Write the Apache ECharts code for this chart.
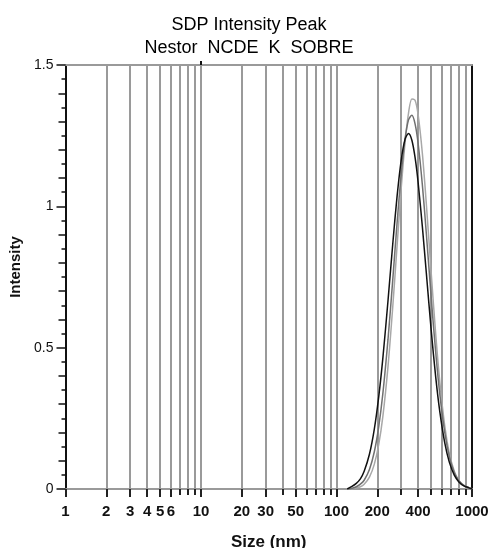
<!DOCTYPE html>
<html>
<head>
<meta charset="utf-8">
<script src="https://cdn.jsdelivr.net/npm/echarts@6/dist/echarts.min.js"></script>
<style>html,body{margin:0;padding:0;background:#fff}#c{width:488px;height:548px}</style>
</head>
<body>
<div id="c"></div>
<script>
// Size (nm) sample points
const sizes = [120,130,140,150,160,175,190,205,220,240,260,280,300,320,340,360,380,400,430,460,500,540,580,630,680,740,800,870,950,1000];
// Intensity readings for each run
const runBlack = [0,0.009,0.020,0.036,0.063,0.123,0.211,0.327,0.465,0.667,0.866,1.036,1.162,1.236,1.258,1.234,1.173,1.086,0.929,0.765,0.561,0.395,0.270,0.162,0.095,0.049,0.025,0.011,0.004,0];
const runGray = [0,0.003,0.008,0.017,0.031,0.069,0.131,0.221,0.339,0.530,0.739,0.942,1.112,1.236,1.306,1.322,1.292,1.224,1.077,0.905,0.677,0.482,0.331,0.199,0.115,0.058,0.029,0.013,0.005,0];
const runLight = [0,0.001,0.004,0.008,0.017,0.042,0.087,0.158,0.258,0.434,0.643,0.861,1.061,1.222,1.330,1.380,1.375,1.325,1.188,1.010,0.764,0.546,0.374,0.222,0.127,0.063,0.030,0.013,0.005,0];
// Axis tick values
const xLabelTicks = [1,2,3,4,5,6,10,20,30,50,100,200,400,1000];
const xMinorTicks = [7,8,9,40,60,70,80,90,300,500,600,700,800,900];
const xTopTicks = [10];

const pair = (arr) => sizes.map((s, i) => [s, arr[i]]);
const FONT = 'Liberation Sans, Arial, sans-serif';
const chart = echarts.init(document.getElementById('c'), null, {renderer: 'canvas'});
chart.setOption({
  animation: false,
  backgroundColor: '#fff',
  title: {
    text: 'SDP Intensity Peak\nNestor  NCDE  K  SOBRE',
    left: 244, top: 9, textAlign: 'center',
    textStyle: {fontFamily: FONT, fontSize: 18, fontWeight: 'normal', color: '#000', lineHeight: 23}
  },
  grid: {left: 65.5, right: 16, top: 65, bottom: 59, outerBoundsMode: 'none', containLabel: false},
  xAxis: [
    {
      type: 'log', logBase: 10, min: 1, max: 1000, position: 'bottom',
      name: 'Size (nm)', nameLocation: 'middle', nameGap: 45,
      nameTextStyle: {fontFamily: FONT, fontSize: 17, fontWeight: 'bold', color: '#111'},
      axisLine: {show: true, onZero: false, lineStyle: {color: '#9a9a9a', width: 2}},
      axisTick: {show: true, inside: false, length: 8, customValues: xLabelTicks, lineStyle: {color: '#222', width: 2}},
      axisLabel: {show: true, customValues: xLabelTicks, margin: 15, fontFamily: FONT, fontSize: 15, fontWeight: 'bold', color: '#111',
        formatter: (v) => String(Math.round(v))},
      splitLine: {show: true, lineStyle: {color: '#9a9a9a', width: 2}},
      minorTick: {show: false}
    },
    {
      type: 'log', logBase: 10, min: 1, max: 1000, position: 'bottom',
      axisLine: {show: false, onZero: false},
      axisTick: {show: true, length: 6, customValues: xMinorTicks, lineStyle: {color: '#222', width: 2}},
      axisLabel: {show: false},
      splitLine: {show: true, lineStyle: {color: '#9a9a9a', width: 2}}
    },
    {
      type: 'log', logBase: 10, min: 1, max: 1000, position: 'top',
      axisLine: {show: true, onZero: false, lineStyle: {color: '#9a9a9a', width: 2}},
      axisTick: {show: true, length: 4, customValues: xTopTicks, lineStyle: {color: '#111', width: 2}},
      axisLabel: {show: false}, splitLine: {show: false}
    }
  ],
  yAxis: [
    {
      type: 'value', min: 0, max: 1.5, interval: 0.5, position: 'left',
      name: 'Intensity', nameLocation: 'middle', nameGap: 38, nameRotate: 90,
      nameTextStyle: {fontFamily: FONT, fontSize: 15, fontWeight: 'bold', color: '#111', padding: [0, 0, 0, 20]},
      axisLine: {show: true, onZero: false, lineStyle: {color: '#111', width: 2}},
      axisTick: {show: true, length: 9, lineStyle: {color: '#111', width: 1.5}},
      axisLabel: {margin: 12, fontFamily: FONT, fontSize: 14, color: '#111'},
      splitLine: {show: false}
    },
    {
      type: 'value', min: 0, max: 1.5, interval: 0.1, position: 'left',
      axisLine: {show: false, onZero: false},
      axisTick: {show: true, length: 7, lineStyle: {color: '#111', width: 1.5}},
      minorTick: {show: true, splitNumber: 2, length: 4, lineStyle: {color: '#111', width: 1.5}},
      axisLabel: {show: false}, splitLine: {show: false}
    },
    {
      type: 'value', min: 0, max: 1.5, position: 'right',
      axisLine: {show: true, onZero: false, lineStyle: {color: '#111', width: 2}},
      axisTick: {show: false}, axisLabel: {show: false}, splitLine: {show: false}
    }
  ],
  series: [
    {type: 'line', name: 'run 3', data: pair(runLight), xAxisIndex: 0, yAxisIndex: 0, symbol: 'none', smooth: 0.3, lineStyle: {color: '#a8a8a8', width: 1.5}},
    {type: 'line', name: 'run 2', data: pair(runGray), xAxisIndex: 0, yAxisIndex: 0, symbol: 'none', smooth: 0.3, lineStyle: {color: '#707070', width: 1.5}},
    {type: 'line', name: 'run 1', data: pair(runBlack), xAxisIndex: 0, yAxisIndex: 0, symbol: 'none', smooth: 0.3, lineStyle: {color: '#111', width: 1.5}}
  ]
});
</script>
</body>
</html>
